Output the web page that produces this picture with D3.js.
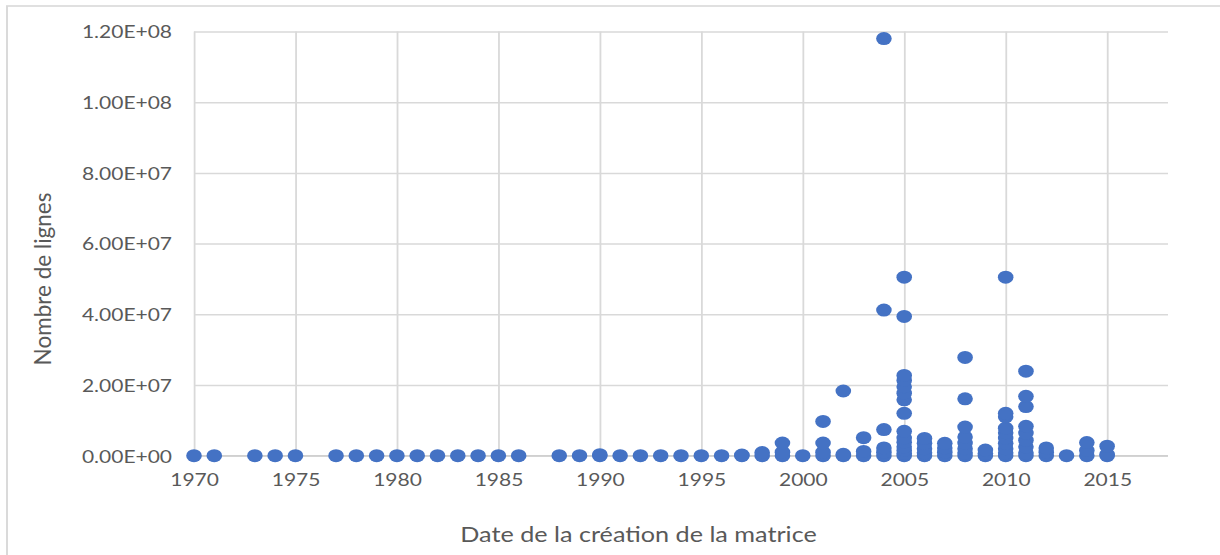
<!DOCTYPE html>
<html>
<head>
<meta charset="utf-8">
<script src="https://cdn.jsdelivr.net/npm/d3@7"></script>
<style>
  html, body { margin: 0; padding: 0; background: #ffffff; }
  svg { display: block; }
</style>
</head>
<body>
<svg id="chart"></svg>
<script>
// ---- Data ----
const years = [1970, 1971, 1973, 1974, 1975, 1977, 1978, 1979, 1980, 1981, 1982, 1983, 1984, 1985, 1986,
  1988, 1989, 1990, 1991, 1992, 1993, 1994, 1995, 1996, 1997, 1998, 1999, 2000, 2001, 2002, 2003,
  2004, 2005, 2006, 2007, 2008, 2009, 2010, 2011, 2012, 2013, 2014, 2015];
const valuesByYear = [
  [0], [0], [0], [0], [0], [0], [0], [0], [0], [0], [0], [0], [0], [0], [0],
  [0], [0], [0, 300000], [0], [0], [0], [0], [0], [0], [0, 200000], [0, 900000],
  [0, 1000000, 3600000],
  [0],
  [0, 1000000, 3600000, 9700000],
  [0, 400000, 18300000],
  [0, 1200000, 5100000],
  [0, 1000000, 2200000, 7400000, 41200000, 118000000],
  [0, 600000, 1500000, 2500000, 3800000, 5000000, 6900000, 12000000, 15800000, 17700000, 19500000, 21300000, 22700000, 39400000, 50500000],
  [0, 800000, 2000000, 3500000, 4900000],
  [0, 1000000, 2200000, 3500000],
  [0, 800000, 2000000, 3600000, 5300000, 8100000, 16100000, 27800000],
  [0, 600000, 1600000],
  [0, 800000, 2000000, 3500000, 5000000, 6500000, 7800000, 11000000, 12000000, 50500000],
  [0, 800000, 2500000, 4400000, 6400000, 8300000, 13900000, 16800000, 23900000],
  [0, 1000000, 2200000],
  [0],
  [0, 1500000, 3700000],
  [0, 400000, 2700000]
];
const xTickValues = [1970, 1975, 1980, 1985, 1990, 1995, 2000, 2005, 2010, 2015];
const yTickValues = [0, 20000000, 40000000, 60000000, 80000000, 100000000, 120000000];
const xTitle = "Date de la création de la matrice";
const yTitle = "Nombre de lignes";

// ---- Layout (the reference is stretched horizontally, so draw in a narrower viewBox) ----
const W = 1220, H = 555, SX = 1.2;
const VW = W / SX;
const px = v => v / SX; // convert picture x-pixels to viewBox units

const svg = d3.select("#chart")
  .attr("width", W).attr("height", H)
  .attr("viewBox", `0 0 ${VW} ${H}`)
  .attr("preserveAspectRatio", "none");

const plot = { left: px(194), right: px(1168), top: 31.5, bottom: 455.7 };

const x = d3.scaleLinear().domain([1970, 2018]).range([plot.left, plot.right]);
const y = d3.scaleLinear().domain([0, 120000000]).range([plot.bottom, plot.top]);

const gridColor = "#d9d9d9";
const textColor = "#595959";
const fontFam = "Lato, 'Open Sans', 'Liberation Sans', sans-serif";

// outer chart border
svg.append("rect")
  .attr("x", px(7)).attr("y", 6)
  .attr("width", VW + 20).attr("height", H + 20)
  .attr("fill", "none").attr("stroke", gridColor).attr("stroke-width", 1.6);

function sci(v) {
  if (v === 0) return "0.00E+00";
  const e = Math.floor(Math.log10(Math.abs(v)));
  const m = v / Math.pow(10, e);
  return m.toFixed(2) + "E" + (e < 0 ? "-" : "+") + String(Math.abs(e)).padStart(2, "0");
}

// horizontal gridlines + y labels via axis
const yAxis = d3.axisLeft(y).tickValues(yTickValues).tickFormat(sci)
  .tickSize(-(plot.right - plot.left)).tickPadding(px(22));
const gy = svg.append("g").attr("transform", `translate(${plot.left},0)`).call(yAxis);
gy.select(".domain").remove();
gy.selectAll(".tick line").attr("stroke", gridColor).attr("stroke-width", 1.5);
gy.selectAll(".tick text")
  .attr("fill", textColor).attr("font-family", fontFam).attr("font-size", 17.5)
  .attr("dy", "0.36em");

// vertical gridlines + x labels via axis
const xAxis = d3.axisBottom(x).tickValues(xTickValues).tickFormat(d3.format("d"))
  .tickSize(-(plot.bottom - plot.top)).tickPadding(22);
const gx = svg.append("g").attr("transform", `translate(0,${plot.bottom})`).call(xAxis);
gx.select(".domain").remove();
gx.selectAll(".tick line").attr("stroke", gridColor).attr("stroke-width", 1.5);
gx.selectAll(".tick text")
  .attr("fill", textColor).attr("font-family", fontFam).attr("font-size", 17.5)
  .attr("dy", "0.71em").attr("y", 18);

// baseline (value axis zero line)
svg.append("line")
  .attr("x1", plot.left).attr("x2", plot.right)
  .attr("y1", y(0)).attr("y2", y(0))
  .attr("stroke", "#d0d0d0").attr("stroke-width", 1.6);

// points
const points = [];
years.forEach((yr, i) => valuesByYear[i].forEach(v => points.push({ year: yr, value: v })));
svg.append("g").selectAll("circle").data(points).join("circle")
  .attr("cx", d => x(d.year))
  .attr("cy", d => y(d.value))
  .attr("r", 6.5)
  .attr("fill", "#4472C4");

// axis titles
svg.append("text")
  .attr("x", px(638.5)).attr("y", 542)
  .attr("text-anchor", "middle")
  .attr("fill", textColor).attr("font-family", fontFam).attr("font-size", 21)
  .text(xTitle);

// vertical title: undo the horizontal stretch so the glyphs keep normal proportions
svg.append("text")
  .attr("transform", `translate(${px(51)},279) scale(${1 / SX},1) rotate(-90)`)
  .attr("text-anchor", "middle")
  .attr("fill", textColor).attr("font-family", fontFam).attr("font-size", 22.5)
  .text(yTitle);
</script>
</body>
</html>
